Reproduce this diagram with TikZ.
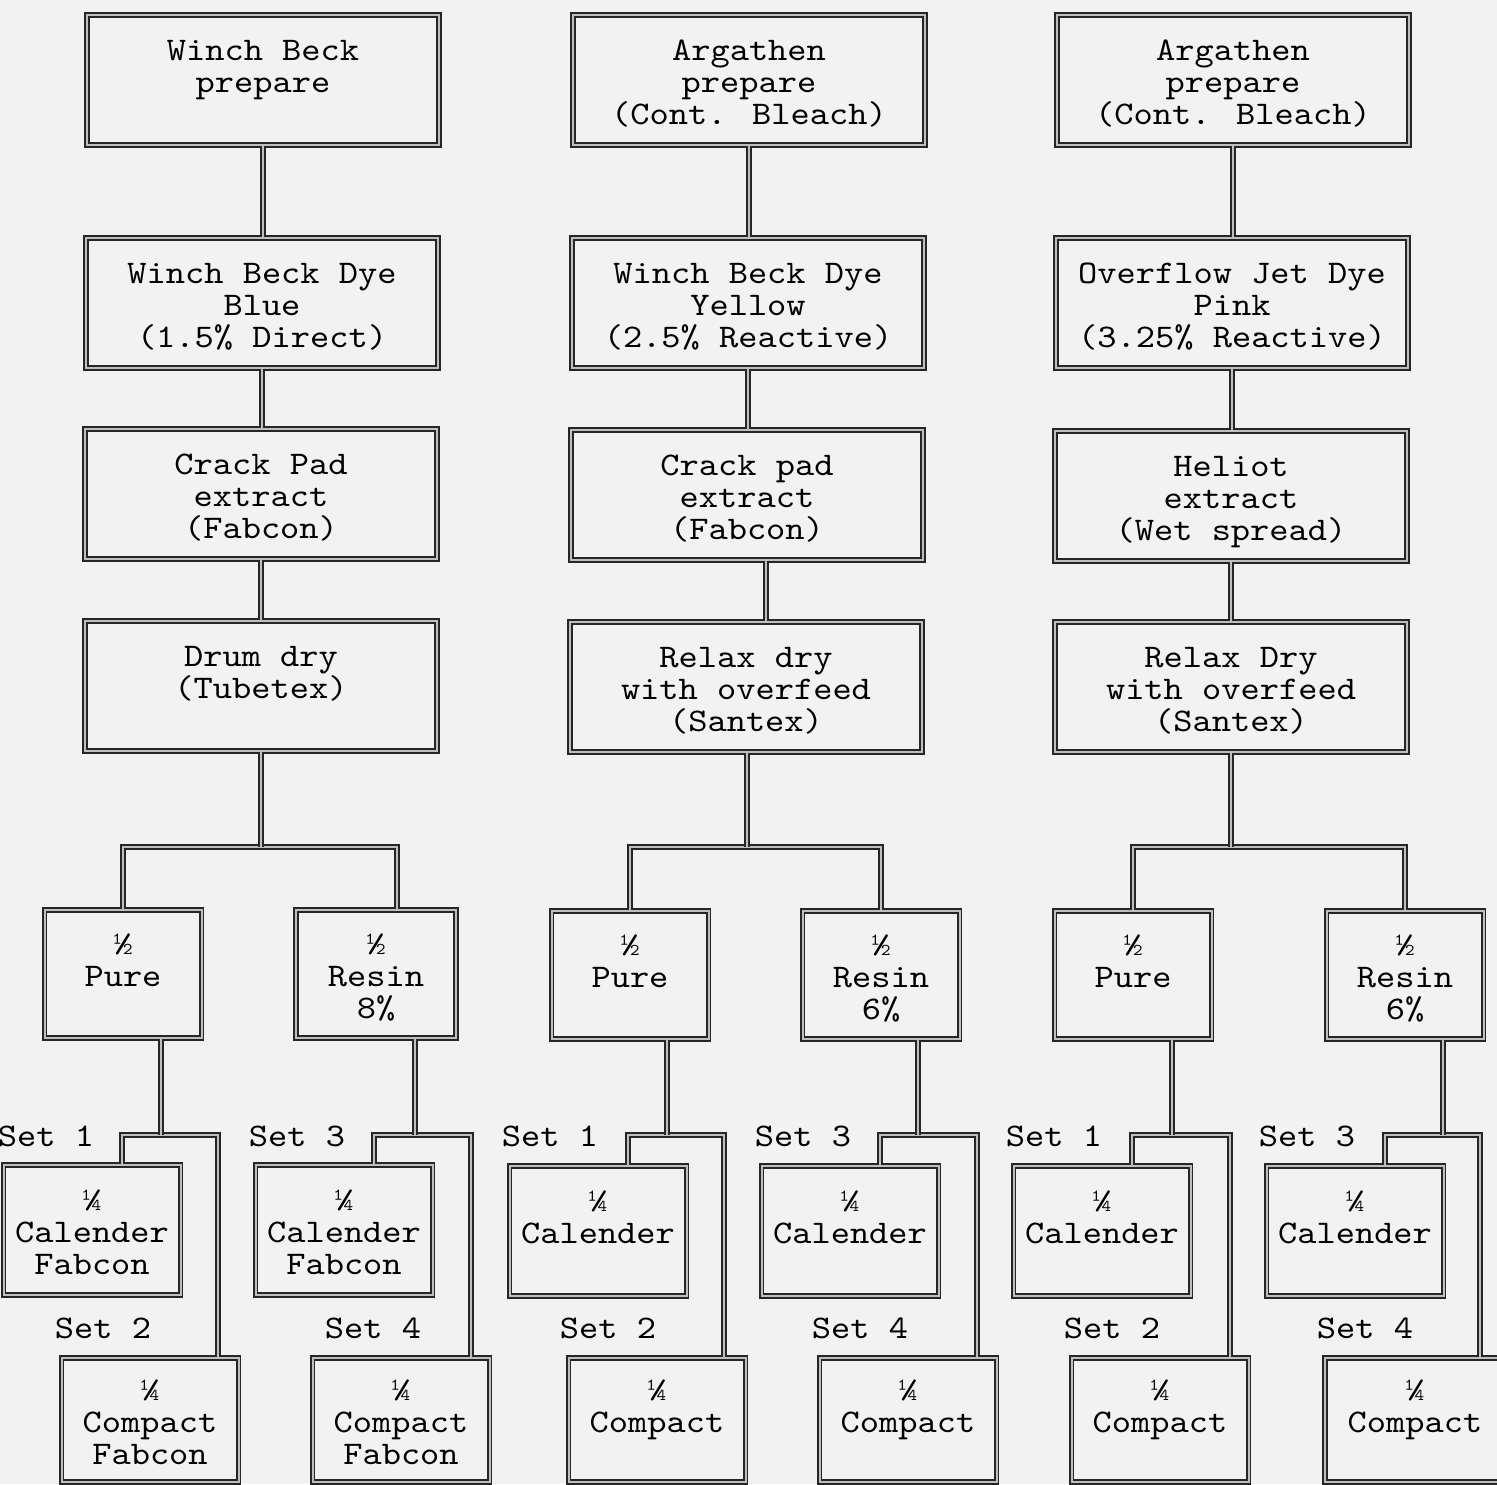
\documentclass[tikz,border=0pt]{standalone}
\usepackage{fontspec}
\usetikzlibrary{calc, positioning}

\definecolor{paper}{RGB}{242,242,242}
\newfontfamily\typerfont{lmmono10-regular.otf}[FakeStretch=1.11]
\newcommand{\typer}{\typerfont\fontsize{16.5}{16}\selectfont}

\begin{document}
\begin{tikzpicture}[x=0.5pt, y=-0.5pt,
    box/.style={draw=black!85, double=gray!50, double distance=1pt, line width=0.8pt,
                inner sep=0pt, align=center, font=\typer, text height=48pt, text depth=4pt},
    stage/.style={box, minimum width=176pt, minimum height=65pt},
    half/.style={box, minimum width=78.5pt, minimum height=64pt},
    quarter/.style={box, minimum width=88.5pt, minimum height=65pt},
    lot/.style={box, minimum width=88.5pt, minimum height=62pt},
    link/.style={draw=black!85, double=gray!50, double distance=1pt, line width=0.8pt},
    setlabel/.style={font=\typer, inner sep=0pt}]
\useasboundingbox[fill=paper] (0,0) rectangle (1497,1484);

% Preparation and dyeing stages
\node[stage] (A1) at (263,80) {Winch Beck\\prepare\\};
\node[stage] (B1) at (262,303) {Winch Beck Dye\\Blue\\(1.5\% Direct)};
\node[stage] (C1) at (261,494) {Crack Pad\\extract\\(Fabcon)};
\node[stage] (D1) at (261,686) {Drum dry\\(Tubetex)\\};

\node[stage] (A2) at (749,80) {Argathen\\prepare\\(Cont. Bleach)};
\node[stage] (B2) at (748,303) {Winch Beck Dye\\Yellow\\(2.5\% Reactive)};
\node[stage] (C2) at (747,495) {Crack pad\\extract\\(Fabcon)};
\node[stage] (D2) at (746,687) {Relax dry\\with overfeed\\(Santex)};

\node[stage] (A3) at (1233,80) {Argathen\\prepare\\(Cont. Bleach)};
\node[stage] (B3) at (1232,303) {Overflow Jet Dye\\Pink\\(3.25\% Reactive)};
\node[stage] (C3) at (1231,496) {Heliot\\extract\\(Wet spread)};
\node[stage] (D3) at (1231,687) {Relax Dry\\with overfeed\\(Santex)};

% Half lots
\node[half] (E1) at (123,974) {½\\Pure\\};
\node[half, minimum width=80pt] (F1) at (376,974) {½\\Resin\\8\%};
\node[half] (E2) at (630,975) {½\\Pure\\};
\node[half] (F2) at (881,975) {½\\Resin\\6\%};
\node[half] (E3) at (1133,975) {½\\Pure\\};
\node[half] (F3) at (1405,975) {½\\Resin\\6\%};

% Quarter lots
\node[quarter] (G1) at (92,1230) {¼\\Calender\\Fabcon};
\node[quarter] (G2) at (344,1230) {¼\\Calender\\Fabcon};
\node[quarter] (G3) at (598,1231) {¼\\Calender\\};
\node[quarter] (G4) at (850,1231) {¼\\Calender\\};
\node[quarter] (G5) at (1102,1231) {¼\\Calender\\};
\node[quarter] (G6) at (1355,1231) {¼\\Calender\\};

\node[lot] (H1) at (150,1420) {¼\\Compact\\Fabcon};
\node[lot] (H2) at (401,1420) {¼\\Compact\\Fabcon};
\node[lot] (H3) at (657,1420) {¼\\Compact\\};
\node[lot] (H4) at (908,1420) {¼\\Compact\\};
\node[lot] (H5) at (1160,1420) {¼\\Compact\\};
\node[lot, minimum width=90pt] (H6) at (1415,1420) {¼\\Compact\\};

% Set labels
\node[setlabel] (s1) at (46,1136) {Set 1};
\node[setlabel] (s2) at (103,1328) {Set 2};
\node[setlabel] (s3) at (297,1136) {Set 3};
\node[setlabel] (s4) at (373,1328) {Set 4};
\node[setlabel] (s5) at (550,1136) {Set 1};
\node[setlabel] (s6) at (608,1328) {Set 2};
\node[setlabel] (s7) at (803,1136) {Set 3};
\node[setlabel] (s8) at (860,1328) {Set 4};
\node[setlabel] (s9) at (1054,1136) {Set 1};
\node[setlabel] (s10) at (1112,1328) {Set 2};
\node[setlabel] (s11) at (1307,1136) {Set 3};
\node[setlabel] (s12) at (1365,1328) {Set 4};

% Straight runs between stages
\draw[link] (A1.south) -- (A1.south |- B1.north);
\draw[link] (B1.south) -- (B1.south |- C1.north);
\draw[link] (C1.south) -- (C1.south |- D1.north);
\draw[link] (A2.south) -- (A2.south |- B2.north);
\draw[link] (B2.south) -- (B2.south |- C2.north);
\draw[link] ([xshift=9.5pt]C2.south) -- ([xshift=9.5pt]C2.south |- D2.north);
\draw[link] (A3.south) -- (A3.south |- B3.north);
\draw[link] (B3.south) -- (B3.south |- C3.north);
\draw[link] (C3.south) -- (C3.south |- D3.north);

% Splits into halves
\coordinate (b1) at (397,847);
\draw[link] (E1.north) -- (E1.north |- b1) -- (b1) -- (F1.north -| b1);
\draw[link] (D1.south) -- (D1.south |- b1);
\draw[link] (E2.north) -- (E2.north |- b1) -- (F2.north |- b1) -- (F2.north);
\draw[link] ([xshift=0.5pt]D2.south) -- ([xshift=0.5pt]D2.south |- b1);
\draw[link] (E3.north) -- (E3.north |- b1) -- (F3.north |- b1) -- (F3.north);
\draw[link] (D3.south) -- (D3.south |- b1);

% Splits into quarters
\coordinate (t1) at (0,1135);
\draw[link] ([xshift=15pt]G1.north) -- ([xshift=15pt]G1.north |- t1) -- ([xshift=34pt]H1.north |- t1) -- ([xshift=34pt]H1.north);
\draw[link] ([xshift=19pt]E1.south) -- ([xshift=19pt]E1.south |- t1);
\draw[link] ([xshift=15pt]G2.north) -- ([xshift=15pt]G2.north |- t1) -- ([xshift=35pt]H2.north |- t1) -- ([xshift=35pt]H2.north);
\draw[link] ([xshift=19.5pt]F1.south) -- ([xshift=19.5pt]F1.south |- t1);
\draw[link] ([xshift=15pt]G3.north) -- ([xshift=15pt]G3.north |- t1) -- ([xshift=33.5pt]H3.north |- t1) -- ([xshift=33.5pt]H3.north);
\draw[link] ([xshift=18.5pt]E2.south) -- ([xshift=18.5pt]E2.south |- t1);
\draw[link] ([xshift=15pt]G4.north) -- ([xshift=15pt]G4.north |- t1) -- ([xshift=34.5pt]H4.north |- t1) -- ([xshift=34.5pt]H4.north);
\draw[link] ([xshift=18.5pt]F2.south) -- ([xshift=18.5pt]F2.south |- t1);
\draw[link] ([xshift=15pt]G5.north) -- ([xshift=15pt]G5.north |- t1) -- ([xshift=35pt]H5.north |- t1) -- ([xshift=35pt]H5.north);
\draw[link] ([xshift=19.5pt]E3.south) -- ([xshift=19.5pt]E3.south |- t1);
\draw[link] ([xshift=15pt]G6.north) -- ([xshift=15pt]G6.north |- t1) -- ([xshift=32.5pt]H6.north |- t1) -- ([xshift=32.5pt]H6.north);
\draw[link] ([xshift=19pt]F3.south) -- ([xshift=19pt]F3.south |- t1);
\end{tikzpicture}
\end{document}
